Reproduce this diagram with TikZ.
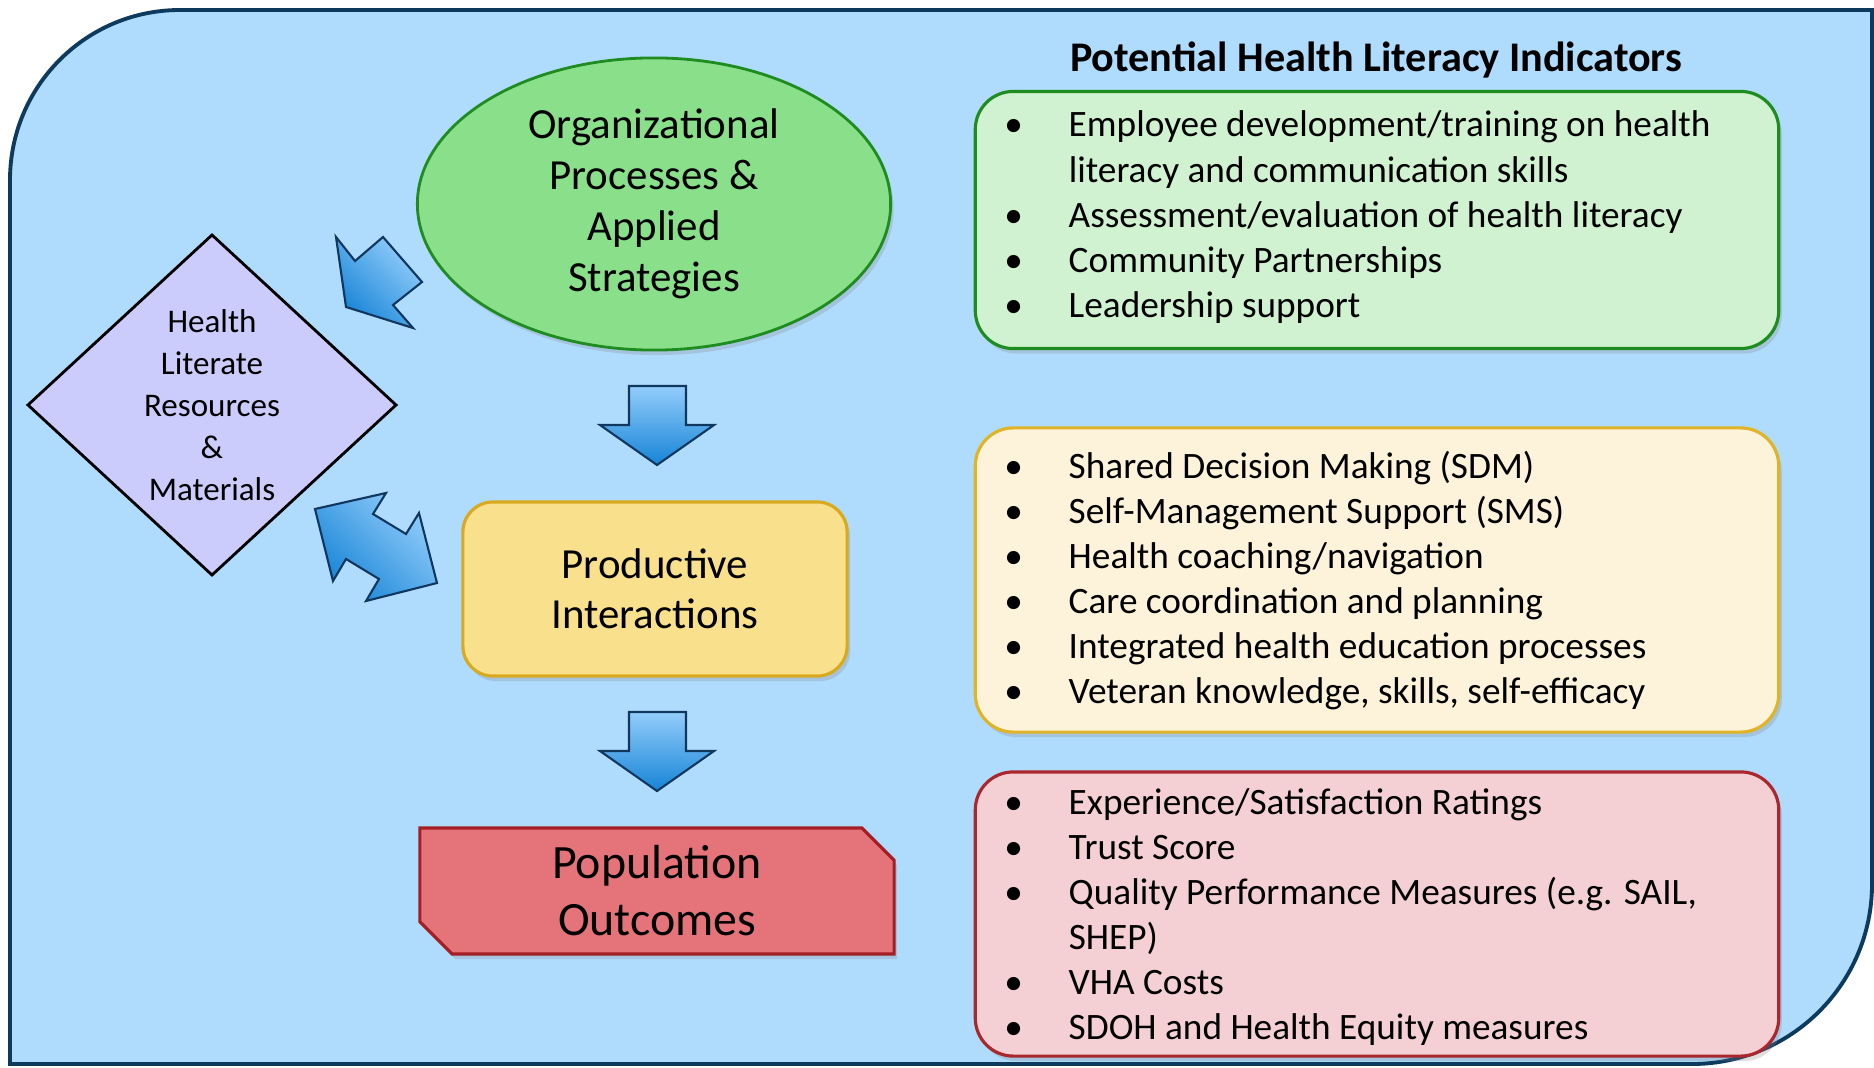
\documentclass[tikz,border=0pt]{standalone}
\usepackage{fontspec}
\setmainfont{Carlito}
\usetikzlibrary{shapes.geometric,shapes.misc,shadows}

\definecolor{bgblue}{RGB}{175,219,252}
\definecolor{bgline}{RGB}{14,58,94}
\definecolor{orggreen}{RGB}{138,224,138}
\definecolor{orgline}{RGB}{30,140,30}
\definecolor{reslilac}{RGB}{204,204,252}
\definecolor{intyellow}{RGB}{248,224,140}
\definecolor{intline}{RGB}{218,170,30}
\definecolor{popred}{RGB}{228,115,122}
\definecolor{popline}{RGB}{165,30,35}
\definecolor{indgreen}{RGB}{208,242,208}
\definecolor{indcream}{RGB}{252,243,218}
\definecolor{indcreamline}{RGB}{225,180,40}
\definecolor{indpink}{RGB}{244,208,212}
\definecolor{indpinkline}{RGB}{170,40,45}
\definecolor{arrowlight}{RGB}{147,205,251}
\definecolor{arrowdark}{RGB}{22,132,214}
\definecolor{arrowline}{RGB}{18,55,95}

\newcommand{\hlbullet}{\makebox[0pt]{\textbullet}}

\tikzset{
  softshadow/.style={drop shadow={shadow xshift=0.03cm, shadow yshift=-0.05cm, opacity=0.25}},
  bgframe/.style={fill=bgblue, draw=bgline, line width=1.1pt},
  orgellipse/.style={ellipse, fill=orggreen, draw=orgline, line width=0.8pt, inner sep=0pt,
    minimum width=4.73cm, minimum height=2.92cm, align=center, softshadow,
    font=\fontsize{12.2}{14.5}\selectfont},
  resdiamond/.style={diamond, fill=reslilac, draw=black, line width=0.8pt, inner sep=0pt,
    minimum width=3.69cm, minimum height=3.41cm, align=center,
    font=\fontsize{9.4}{11.9}\selectfont},
  interbox/.style={rectangle, rounded corners=0.3cm, fill=intyellow, draw=intline, line width=0.9pt,
    minimum width=3.84cm, minimum height=1.74cm, align=center, softshadow,
    font=\fontsize{12.2}{14.2}\selectfont},
  popbox/.style={chamfered rectangle, chamfered rectangle corners={north east,south west},
    chamfered rectangle xsep=0.21cm, fill=popred, draw=popline, line width=0.9pt, inner sep=0pt,
    minimum width=4.74cm, minimum height=1.26cm, align=center, softshadow,
    font=\fontsize{13.6}{16.2}\selectfont},
  indbox/.style={rectangle, rounded corners=0.38cm, line width=0.9pt, minimum width=8.03cm, softshadow},
  indlist/.style={anchor=base west, inner sep=0pt, font=\fontsize{10.6}{12.8}\selectfont},
  blockarrow/.style={top color=arrowlight, bottom color=arrowdark, draw=arrowline, line width=0.6pt}
}

\begin{document}
\begin{tikzpicture}[x=0.01cm, y=-0.01cm]
\useasboundingbox (0,0) rectangle (1874,1067);

% background panel
\draw[bgframe] (10,1064) -- (10,180) arc[start angle=180, end angle=270, radius=170]
  -- (1872,10) -- (1872,884) arc[start angle=0, end angle=90, radius=180] -- cycle;

% left column
\node[orgellipse] (org) at (654,204) {Organizational\\Processes \&\\Applied\\Strategies};
\node[resdiamond] (res) at (212,405) {Health\\Literate\\Resources\\\&\\Materials};
\node[interbox] (inter) at (655,589) {Productive\\Interactions};
\node[popbox] (pop) at (657,891) {Population\\Outcomes};

% block arrows
\foreach \t in {386,712}
  \shadedraw[blockarrow] (629,\t) -- (686,\t) -- (686,\t+39) -- (714,\t+39) -- (657,\t+79)
    -- (600,\t+39) -- (629,\t+39) -- cycle;
\shadedraw[blockarrow, shading angle=-45] (336,237) -- (355,261) -- (383,237) -- (422,282)
  -- (393,305) -- (413,328) -- (346,307) -- cycle;
\shadedraw[blockarrow, shading angle=-45] (315,509) -- (386,493) -- (373,514) -- (406,534)
  -- (419,513) -- (437,583) -- (366,601) -- (379,579) -- (346,559) -- (333,581) -- cycle;

% indicators
\node[font=\fontsize{12}{14}\selectfont\bfseries, anchor=base] (title) at (1376,72)
  {Potential Health Literacy Indicators};

\node[indbox, fill=indgreen, draw=orgline, minimum height=2.57cm] (orgind) at (1377,220) {};
\node[indlist] (orglist) at (1013,137) {\begin{tabular}[t]{@{}l@{\hspace{0.55cm}}l@{}}
  \hlbullet & Employee development/training on health\\
            & literacy and communication skills\\
  \hlbullet & Assessment/evaluation of health literacy\\
  \hlbullet & Community Partnerships\\
  \hlbullet & Leadership support
\end{tabular}};

\node[indbox, fill=indcream, draw=indcreamline, minimum height=3.04cm] (interind) at (1377,580) {};
\node[indlist] (interlist) at (1013,478) {\begin{tabular}[t]{@{}l@{\hspace{0.55cm}}l@{}}
  \hlbullet & Shared Decision Making (SDM)\\
  \hlbullet & Self-Management Support (SMS)\\
  \hlbullet & Health coaching/navigation\\
  \hlbullet & Care coordination and planning\\
  \hlbullet & Integrated health education processes\\
  \hlbullet & Veteran knowledge, skills, self-efficacy
\end{tabular}};

\node[indbox, fill=indpink, draw=indpinkline, minimum height=2.84cm] (popind) at (1377,914) {};
\node[indlist] (poplist) at (1013,814) {\begin{tabular}[t]{@{}l@{\hspace{0.55cm}}l@{}}
  \hlbullet & Experience/Satisfaction Ratings\\
  \hlbullet & Trust Score\\
  \hlbullet & Quality Performance Measures (e.g. SAIL,\\
            & SHEP)\\
  \hlbullet & VHA Costs\\
  \hlbullet & SDOH and Health Equity measures
\end{tabular}};

\end{tikzpicture}
\end{document}
